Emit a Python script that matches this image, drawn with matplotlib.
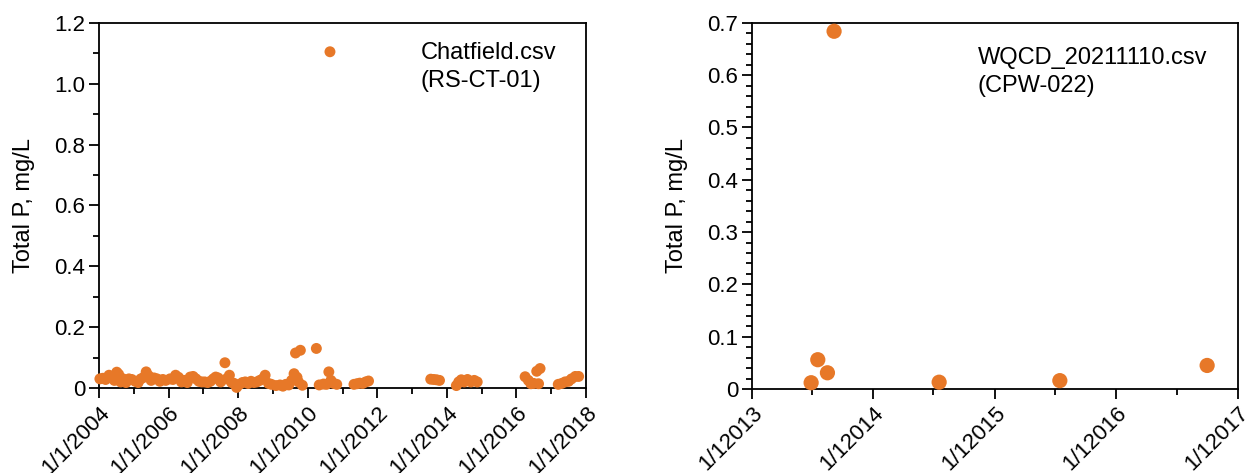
import matplotlib
matplotlib.use("Agg")
import matplotlib.pyplot as plt
import matplotlib.dates as mdates
from matplotlib.ticker import MultipleLocator, FuncFormatter
import pandas as pd

plt.rcParams["font.family"] = ["Liberation Sans", "DejaVu Sans"]

# Chatfield.csv, station RS-CT-01
chat_dates = [
    "2004-01-10", "2004-02-10", "2004-03-10", "2004-04-15", "2004-05-12", "2004-06-10",
    "2004-07-05", "2004-07-25", "2004-08-15", "2004-09-10", "2004-10-10", "2004-11-10",
    "2004-12-10",
    "2005-01-15", "2005-02-15", "2005-03-15", "2005-04-15", "2005-05-10", "2005-06-05",
    "2005-07-01", "2005-08-01", "2005-09-01", "2005-10-01", "2005-11-01", "2005-12-01",
    "2006-01-15", "2006-02-15", "2006-03-15", "2006-04-15", "2006-05-15", "2006-06-15",
    "2006-07-15", "2006-08-15", "2006-09-15", "2006-10-15", "2006-11-15", "2006-12-15",
    "2007-01-15", "2007-02-15", "2007-03-15", "2007-04-15", "2007-05-10", "2007-06-05",
    "2007-07-01", "2007-08-15", "2007-09-01", "2007-10-01", "2007-10-25", "2007-11-20",
    "2007-12-15",
    "2008-01-15", "2008-02-15", "2008-03-15", "2008-04-15", "2008-05-15", "2008-06-15",
    "2008-07-15", "2008-08-15", "2008-09-15", "2008-10-10", "2008-11-15", "2008-12-15",
    "2009-02-01", "2009-03-15", "2009-04-15", "2009-05-15", "2009-06-15", "2009-07-15",
    "2009-08-10", "2009-08-25", "2009-09-10", "2009-09-25", "2009-10-15", "2009-11-05",
    "2010-04-01", "2010-05-01", "2010-06-15", "2010-07-15", "2010-08-10", "2010-08-22",
    "2010-09-01", "2010-10-01", "2010-11-01",
    "2011-05-01", "2011-06-01", "2011-07-01", "2011-08-01", "2011-09-01", "2011-10-01",
    "2013-07-15", "2013-08-15", "2013-09-15", "2013-10-15",
    "2014-04-10", "2014-05-05", "2014-06-01", "2014-07-01", "2014-08-05", "2014-09-10",
    "2014-10-15", "2014-11-15",
    "2016-04-01", "2016-05-05", "2016-06-01", "2016-07-01", "2016-08-01", "2016-08-20",
    "2016-09-05",
    "2017-03-15", "2017-04-20", "2017-05-25", "2017-07-01", "2017-08-01", "2017-09-10",
    "2017-10-15",
]
chat_tp = [
    0.030, 0.032, 0.028, 0.042, 0.035, 0.025,
    0.052, 0.045, 0.020, 0.030, 0.018, 0.030,
    0.028,
    0.022, 0.018, 0.030, 0.035, 0.053, 0.040,
    0.025, 0.033, 0.030, 0.022, 0.028, 0.025,
    0.030, 0.028, 0.042, 0.035, 0.020, 0.025,
    0.018, 0.036, 0.038, 0.030, 0.022, 0.020,
    0.020, 0.018, 0.022, 0.030, 0.036, 0.033,
    0.020, 0.083, 0.030, 0.042, 0.018, 0.015,
    0.002,
    0.012, 0.018, 0.020, 0.015, 0.022, 0.018,
    0.020, 0.025, 0.030, 0.042, 0.015, 0.012,
    0.008, 0.010, 0.006, 0.012, 0.010, 0.025,
    0.047, 0.115, 0.035, 0.020, 0.124, 0.009,
    0.130, 0.010, 0.013, 0.012, 0.053, 1.105,
    0.025, 0.015, 0.012,
    0.012, 0.014, 0.016, 0.015, 0.020, 0.023,
    0.029, 0.028, 0.027, 0.025,
    0.008, 0.020, 0.027, 0.020, 0.028, 0.020,
    0.025, 0.020,
    0.037, 0.025, 0.014, 0.015, 0.055, 0.014,
    0.064,
    0.012, 0.015, 0.020, 0.022, 0.030, 0.038,
    0.038,
]

# WQCD_20211110.csv, station CPW-022
wqcd_dates = ["2013-06-28", "2013-07-18", "2013-08-16", "2013-09-05",
              "2014-07-18", "2015-07-16", "2016-10-01"]
wqcd_tp = [0.012, 0.056, 0.031, 0.684, 0.013, 0.016, 0.045]

orange = "#e77828"
fs = 17

fig = plt.figure(figsize=(12.52, 4.73), dpi=100)
ax1 = fig.add_axes([0.0791, 0.1797, 0.389, 0.772])
ax2 = fig.add_axes([0.6006, 0.1776, 0.388, 0.774])


def ylab(v, pos):
    return "0" if abs(v) < 1e-9 else f"{v:.1f}"


def style(ax):
    for s in ax.spines.values():
        s.set_linewidth(1.3)
    ax.tick_params(which="major", direction="out", length=7, width=1.3,
                   labelsize=16, pad=3)
    ax.tick_params(which="minor", direction="out", length=4, width=1.3)
    ax.set_ylabel("Total P, mg/L", fontsize=fs, labelpad=14)
    ax.yaxis.set_major_formatter(FuncFormatter(ylab))
    for lbl in ax.get_xticklabels():
        lbl.set_rotation(45)
        lbl.set_ha("right")
        lbl.set_rotation_mode("anchor")


# left panel
ax1.scatter(pd.to_datetime(chat_dates), chat_tp, s=62, color=orange,
            edgecolors="none", zorder=3, clip_on=False)
ax1.set_xlim(pd.Timestamp("2004-01-01"), pd.Timestamp("2018-01-01"))
ax1.set_ylim(0, 1.2)
ax1.yaxis.set_major_locator(MultipleLocator(0.2))
ax1.yaxis.set_minor_locator(MultipleLocator(0.1))
ax1.xaxis.set_major_locator(mdates.YearLocator(2))
ax1.xaxis.set_minor_locator(mdates.YearLocator(1))
ax1.xaxis.set_major_formatter(
    FuncFormatter(lambda v, p: "{0.month}/{0.day}/{0.year}".format(mdates.num2date(v))))
ax1.text(0.66, 0.948, "Chatfield.csv\n(RS-CT-01)", transform=ax1.transAxes,
         fontsize=fs, ha="left", va="top", linespacing=1.35)
style(ax1)

# right panel
ax2.scatter(pd.to_datetime(wqcd_dates), wqcd_tp, s=120, color=orange,
            edgecolors="none", zorder=3, clip_on=False)
ax2.set_xlim(pd.Timestamp("2013-01-01"), pd.Timestamp("2017-01-01"))
ax2.set_ylim(0, 0.7)
ax2.yaxis.set_major_locator(MultipleLocator(0.1))
ax2.yaxis.set_minor_locator(MultipleLocator(0.02))
ax2.xaxis.set_major_locator(mdates.YearLocator(1))
ax2.xaxis.set_minor_locator(mdates.MonthLocator(bymonth=7))
ax2.xaxis.set_major_formatter(
    FuncFormatter(lambda v, p: "{0.month}/{0.day}{0.year}".format(mdates.num2date(v))))
ax2.text(0.465, 0.935, "WQCD_20211110.csv\n(CPW-022)", transform=ax2.transAxes,
         fontsize=fs, ha="left", va="top", linespacing=1.35)
style(ax2)

fig.savefig("out.png", dpi=100)
